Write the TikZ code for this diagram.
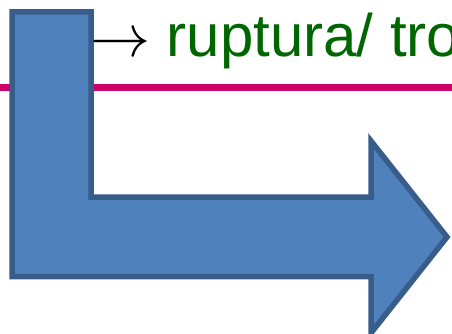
\documentclass[tikz,border=0pt]{standalone}
\usepackage{fix-cm}
\usepackage{fontspec}
\setmainfont{Liberation Sans}
\definecolor{bentfill}{HTML}{4F81BD}
\definecolor{bentline}{HTML}{385D8A}
\definecolor{rulemag}{HTML}{CC0066}
\definecolor{textgreen}{HTML}{006600}
\tikzset{
  bentarrow/.style={fill=bentfill, draw=bentline, line width=5.5pt, line join=miter},
  magrule/.style={draw=rulemag, line width=7pt},
  caption/.style={inner sep=0pt, anchor=base west, text=textgreen,
    font=\fontsize{60}{72}\selectfont}
}
\begin{document}
\begin{tikzpicture}[x=1pt, y=-1pt]
  \useasboundingbox (0,0) rectangle (452,334);
  \clip (0,0) rectangle (452,334);
  % horizontal rule behind the shape
  \coordinate (ruleL) at (0,87.5);
  \coordinate (ruleR) at (452,87.5);
  \draw[magrule] (ruleL) -- (ruleR);
  % bent-up arrow shape
  \draw[bentarrow] (12,12) -- (91,12) -- (91,197) -- (371,197) -- (371,141)
    -- (447,237) -- (371,333) -- (371,276.5) -- (12,276.5) -- cycle;
  % label
  \node[caption] (lbl) at (90,57) {{\color{black}$\rightarrow$} ruptura/ tro};
\end{tikzpicture}
\end{document}
